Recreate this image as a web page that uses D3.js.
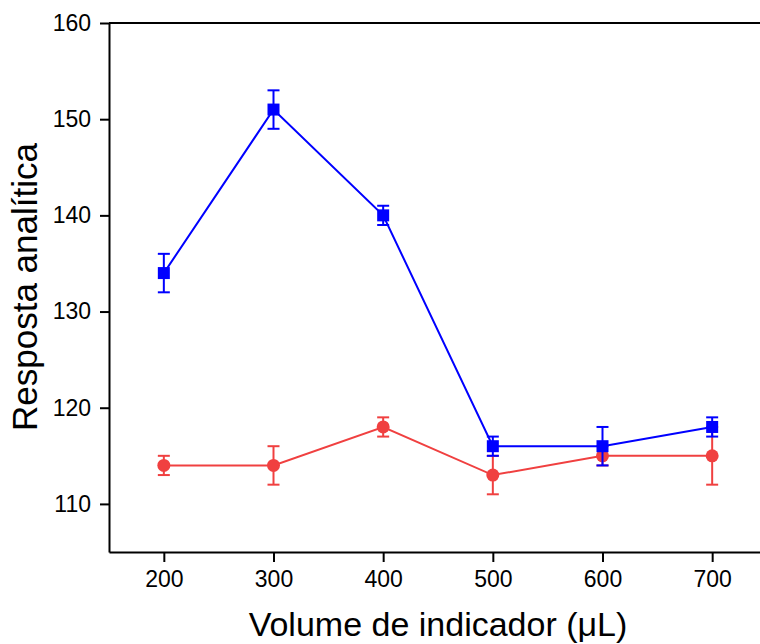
<!DOCTYPE html>
<html><head><meta charset="utf-8">
<script src="https://cdn.jsdelivr.net/npm/d3@7"></script>
<style>body{margin:0;background:#fff}svg{display:block}text{font-family:"Liberation Sans",Arial,sans-serif}</style>
</head><body><svg id="c" width="760" height="644"></svg>
<script>
const volumes = [200, 300, 400, 500, 600, 700];
const blueValues = [134, 151, 140, 116, 116, 118];
const blueErrors = [2, 2, 1, 1, 2, 1];
const redValues = [114, 114, 118, 113, 115, 115];
const redErrors = [1, 2, 1, 2, 1, 3];
const xTicks = [200, 300, 400, 500, 600, 700];
const yTicks = [110, 120, 130, 140, 150, 160];

const svg = d3.select("#c");
const x = d3.scaleLinear().domain([150, 750]).range([109, 767]);
const y = d3.scaleLinear().domain([105, 160]).range([552, 23]);

// top frame line
svg.append("line").attr("x1", 109).attr("x2", 760).attr("y1", y(160)).attr("y2", y(160))
  .attr("stroke", "#000").attr("stroke-width", 2);

const xAxis = svg.append("g").attr("transform", `translate(0,${y(105)})`)
  .call(d3.axisBottom(x).tickValues(xTicks).tickSize(10).tickPadding(9).tickSizeOuter(0));
const yAxis = svg.append("g").attr("transform", `translate(${x(150)},0)`)
  .call(d3.axisLeft(y).tickValues(yTicks).tickSize(9).tickPadding(9).tickSizeOuter(0));
[xAxis, yAxis].forEach(g => {
  g.select(".domain").attr("stroke", "#000").attr("stroke-width", 2);
  g.selectAll(".tick line").attr("stroke", "#000").attr("stroke-width", 2);
  g.selectAll(".tick text").attr("font-size", 23).attr("fill", "#000")
    .style("font-family", '"Liberation Sans", Arial, sans-serif');
});

function series(vals, errs, color, shape) {
  const data = volumes.map((v, i) => ({x: v, y: vals[i], e: errs[i]}));
  const g = svg.append("g");
  g.append("path").datum(data)
    .attr("d", d3.line().x(d => x(d.x)).y(d => y(d.y)))
    .attr("fill", "none").attr("stroke", color).attr("stroke-width", 2);
  const eb = g.selectAll(".eb").data(data).enter().append("g");
  eb.append("line").attr("x1", d => x(d.x)).attr("x2", d => x(d.x))
    .attr("y1", d => y(d.y - d.e)).attr("y2", d => y(d.y + d.e))
    .attr("stroke", color).attr("stroke-width", 2);
  [1, -1].forEach(s => {
    eb.append("line").attr("x1", d => x(d.x) - 6).attr("x2", d => x(d.x) + 6)
      .attr("y1", d => y(d.y + s * d.e)).attr("y2", d => y(d.y + s * d.e))
      .attr("stroke", color).attr("stroke-width", 2);
  });
  if (shape === "square") {
    g.selectAll(".m").data(data).enter().append("rect")
      .attr("x", d => x(d.x) - 6).attr("y", d => y(d.y) - 6)
      .attr("width", 12).attr("height", 12).attr("fill", color);
  } else {
    g.selectAll(".m").data(data).enter().append("circle")
      .attr("cx", d => x(d.x)).attr("cy", d => y(d.y)).attr("r", 6.5).attr("fill", color);
  }
}
series(redValues, redErrors, "#f04040", "circle");
series(blueValues, blueErrors, "#0000ff", "square");

svg.append("text").attr("x", 438).attr("y", 636).attr("text-anchor", "middle")
  .attr("font-size", 34).attr("fill", "#000").text("Volume de indicador (μL)");
svg.append("text").attr("transform", "translate(37,287) rotate(-90)").attr("text-anchor", "middle")
  .attr("font-size", 35).attr("fill", "#000").text("Resposta analítica");
</script></body></html>
